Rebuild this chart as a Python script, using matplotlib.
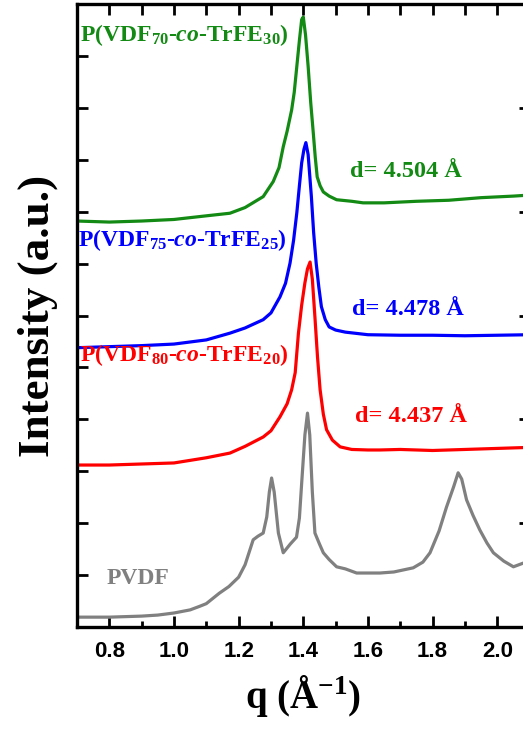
import matplotlib
matplotlib.use('Agg')
import matplotlib.pyplot as plt
from matplotlib.ticker import MultipleLocator, NullFormatter

'''
    Data read off the reference picture (q in 1/A, offset intensity in a.u.)
'''
q_pvdf = [0.70, 0.75, 0.80, 0.85, 0.90, 0.95, 1.00, 1.05, 1.08, 1.10, 1.14, 1.17, 1.20, 1.22,
          1.245, 1.26, 1.276, 1.287, 1.295, 1.302, 1.31, 1.323, 1.338, 1.36, 1.379, 1.388,
          1.395, 1.405, 1.413, 1.42, 1.428, 1.436, 1.45, 1.462, 1.48, 1.503, 1.53, 1.565,
          1.60, 1.637, 1.68, 1.74, 1.77, 1.792, 1.82, 1.843, 1.865, 1.879, 1.89, 1.905,
          1.925, 1.946, 1.968, 1.988, 2.02, 2.05, 2.08, 2.10]
i_pvdf = [0.19, 0.19, 0.19, 0.20, 0.21, 0.23, 0.27, 0.33, 0.40, 0.45, 0.65, 0.78, 0.96, 1.20,
          1.68, 1.75, 1.81, 2.12, 2.60, 2.87, 2.60, 1.81, 1.43, 1.60, 1.73, 2.10,
          2.77, 3.70, 4.12, 3.70, 2.60, 1.81, 1.60, 1.43, 1.30, 1.16, 1.12, 1.04,
          1.04, 1.04, 1.06, 1.14, 1.25, 1.43, 1.85, 2.31, 2.70, 2.97, 2.85, 2.45,
          2.15, 1.87, 1.62, 1.43, 1.27, 1.16, 1.23, 1.25]

q_80 = [0.70, 0.80, 0.90, 1.00, 1.10, 1.173, 1.22, 1.276, 1.30, 1.328, 1.35, 1.364, 1.375,
        1.385, 1.395, 1.405, 1.413, 1.421, 1.428, 1.436, 1.444, 1.452, 1.462, 1.472, 1.49,
        1.514, 1.55, 1.60, 1.637, 1.70, 1.80, 1.90, 2.00, 2.10]
i_80 = [3.12, 3.12, 3.14, 3.16, 3.26, 3.35, 3.48, 3.66, 3.78, 4.05, 4.30, 4.57, 4.90,
        5.66, 6.20, 6.63, 6.90, 7.03, 6.70, 5.97, 5.20, 4.57, 4.10, 3.80, 3.60,
        3.47, 3.42, 3.41, 3.41, 3.42, 3.40, 3.42, 3.44, 3.46]

q_75 = [0.70, 0.80, 0.90, 1.00, 1.10, 1.173, 1.22, 1.276, 1.30, 1.328, 1.345, 1.359, 1.37,
        1.38, 1.388, 1.395, 1.402, 1.408, 1.415, 1.425, 1.432, 1.44, 1.448, 1.456, 1.468,
        1.48, 1.50, 1.53, 1.60, 1.70, 1.80, 1.90, 2.00, 2.10]
i_75 = [5.38, 5.40, 5.42, 5.45, 5.53, 5.66, 5.76, 5.92, 6.05, 6.36, 6.62, 7.01, 7.45,
        7.98, 8.50, 8.94, 9.20, 9.33, 9.10, 8.29, 7.60, 7.00, 6.55, 6.17, 5.92,
        5.78, 5.72, 5.68, 5.63, 5.62, 5.62, 5.61, 5.62, 5.63]

q_70 = [0.70, 0.80, 0.90, 1.00, 1.10, 1.173, 1.22, 1.276, 1.307, 1.325, 1.338, 1.35, 1.364,
        1.372, 1.38, 1.388, 1.395, 1.40, 1.407, 1.415, 1.423, 1.431, 1.437, 1.443, 1.452,
        1.462, 1.48, 1.503, 1.55, 1.585, 1.65, 1.75, 1.85, 1.95, 2.05, 2.10]
i_70 = [7.82, 7.80, 7.82, 7.85, 7.92, 7.97, 8.08, 8.29, 8.58, 8.85, 9.25, 9.55, 9.96,
        10.3, 10.8, 11.3, 11.7, 11.75, 11.4, 10.8, 10.1, 9.51, 9.05, 8.67, 8.50,
        8.38, 8.30, 8.23, 8.20, 8.17, 8.17, 8.20, 8.22, 8.27, 8.30, 8.32]

names = [r'PVDF',
         r'P(VDF$_{80}$-$\mathit{co}$-TrFE$_{20}$)',
         r'P(VDF$_{75}$-$\mathit{co}$-TrFE$_{25}$)',
         r'P(VDF$_{70}$-$\mathit{co}$-TrFE$_{30}$)']
d_labels = ['', 'd= 4.437 Å', 'd= 4.478 Å', 'd= 4.504 Å']
colors = ['#808080', '#ff0000', '#0000ff', '#138a13']

plt.rcParams['mathtext.fontset'] = 'custom'
plt.rcParams['mathtext.rm'] = 'Liberation Serif:bold'
plt.rcParams['mathtext.it'] = 'Liberation Serif:italic:bold'
plt.rcParams['mathtext.bf'] = 'Liberation Serif:bold'

fig = plt.figure(figsize=(5.23, 7.29), dpi=100)
# right edge of the frame sits just outside the picture, as in the reference
ax = fig.add_axes([0.1472, 0.1399, 0.8654, 0.8546])

series = [(q_pvdf, i_pvdf), (q_80, i_80), (q_75, i_75), (q_70, i_70)]
for k in range(0, len(series)):
    ax.plot(series[k][0], series[k][1], color=colors[k], lw=2.3, solid_joinstyle='round')

# curve labels (position in data units)
name_pos = [(0.793, 0.94), (0.709, 5.24), (0.703, 7.46), (0.709, 11.4)]
d_pos = [None, (1.56, 4.05), (1.551, 6.11), (1.544, 8.77)]
for k in range(0, len(names)):
    ax.text(name_pos[k][0], name_pos[k][1], names[k], color=colors[k], ha='left', va='center',
            fontsize=17, family='Liberation Serif', fontweight='bold')
    if d_pos[k] is not None:
        ax.text(d_pos[k][0], d_pos[k][1], d_labels[k], color=colors[k], ha='left', va='center',
                fontsize=17.5, family='Liberation Serif', fontweight='bold')

ax.set_xlim(0.7, 2.1)
ax.set_ylim(0, 12)

ax.xaxis.set_major_locator(MultipleLocator(0.2))
ax.xaxis.set_minor_locator(MultipleLocator(0.1))
ax.yaxis.set_major_locator(MultipleLocator(1))
ax.yaxis.set_major_formatter(NullFormatter())
ax.tick_params(axis='x', which='major', direction='in', length=8, width=2, top=False,
               pad=10, labelsize=16)
ax.tick_params(axis='x', which='minor', direction='in', length=4, width=2, top=False)
ax.tick_params(axis='y', which='major', direction='in', length=8, width=2, right=False)
for lab in ax.get_xticklabels():
    lab.set_family('Liberation Sans')
    lab.set_fontweight('bold')

for s in ax.spines.values():
    s.set_linewidth(2.4)

# top ticks, all the same length
top = ax.twiny()
top.set_xlim(ax.get_xlim())
top.xaxis.set_major_locator(MultipleLocator(0.1))
top.xaxis.set_major_formatter(NullFormatter())
top.tick_params(axis='x', direction='in', length=8, width=2, top=True, bottom=False)
top.tick_params(axis='y', left=False, right=False, labelleft=False, labelright=False)

# right ticks every second unit
rt = ax.twinx()
rt.set_ylim(ax.get_ylim())
rt.yaxis.set_major_locator(MultipleLocator(2))
rt.yaxis.set_major_formatter(NullFormatter())
rt.tick_params(axis='y', direction='in', length=8, width=2, right=True, left=False)
rt.tick_params(axis='x', top=False, bottom=False, labeltop=False, labelbottom=False)

ax.set_xlabel(r'q (Å$^{\mathbf{-1}}$)', fontsize=28, family='Liberation Serif',
              fontweight='bold', labelpad=8)
ax.set_ylabel('Intensity (a.u.)', fontsize=32.5, family='Liberation Serif',
              fontweight='bold', labelpad=10)

plt.savefig('out.png', dpi=100)
